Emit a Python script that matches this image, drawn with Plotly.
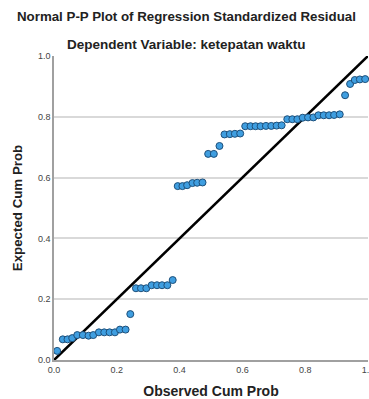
import plotly.graph_objects as go

observed = [0.010, 0.028, 0.043, 0.058, 0.074, 0.092, 0.110, 0.125, 0.143, 0.160,
            0.177, 0.194, 0.210, 0.228, 0.243, 0.261, 0.277, 0.294, 0.311, 0.328,
            0.344, 0.361, 0.378, 0.394, 0.409, 0.424, 0.441, 0.456, 0.473, 0.491,
            0.509, 0.527, 0.543, 0.560, 0.576, 0.593, 0.609, 0.626, 0.642, 0.658,
            0.675, 0.692, 0.709, 0.725, 0.743, 0.759, 0.775, 0.792, 0.809, 0.826,
            0.842, 0.859, 0.876, 0.892, 0.910, 0.927, 0.943, 0.958, 0.974, 0.991]
expected = [0.030, 0.068, 0.068, 0.072, 0.082, 0.082, 0.080, 0.082, 0.091, 0.091,
            0.091, 0.091, 0.100, 0.100, 0.151, 0.236, 0.236, 0.236, 0.246, 0.246,
            0.246, 0.246, 0.263, 0.572, 0.572, 0.575, 0.582, 0.583, 0.584, 0.678,
            0.678, 0.704, 0.742, 0.743, 0.744, 0.745, 0.769, 0.769, 0.769, 0.769,
            0.770, 0.770, 0.771, 0.772, 0.792, 0.792, 0.792, 0.797, 0.798, 0.798,
            0.805, 0.805, 0.805, 0.806, 0.808, 0.871, 0.908, 0.921, 0.923, 0.924]
diag = [0.0, 1.0]
tick_vals = [0.0, 0.2, 0.4, 0.6, 0.8, 1.0]
tick_text = ["0.0", "0.2", "0.4", "0.6", "0.8", "1.0"]

FONT = "Liberation Sans, Arial, sans-serif"

fig = go.Figure()
fig.add_trace(go.Scatter(x=diag, y=diag, mode="lines",
                         line=dict(color="black", width=2.6),
                         hoverinfo="skip", showlegend=False))
fig.add_trace(go.Scatter(x=observed, y=expected, mode="markers",
                         marker=dict(size=7, color="#3f9ee0",
                                     line=dict(color="#1d4f7a", width=1)),
                         showlegend=False, cliponaxis=False))

fig.update_layout(
    width=369, height=399,
    margin=dict(l=54, r=1, t=56, b=39, autoexpand=False),
    paper_bgcolor="white", plot_bgcolor="white",
    font=dict(family=FONT, color="#222"),
    xaxis=dict(range=[0, 1], tickvals=tick_vals, ticktext=tick_text,
               automargin=False, ticklabeloverflow="allow",
               showgrid=False, zeroline=False, showline=True,
               linecolor="#a0a0a0", linewidth=2, ticks="",
               tickfont=dict(size=9, color="#444"),
               title=dict(text="<b>Observed Cum Prob</b>", font=dict(size=14, color="#222"),
                          standoff=13)),
    yaxis=dict(range=[0, 1], tickvals=tick_vals, ticktext=tick_text,
               automargin=False,
               showgrid=True, gridcolor="#d9d9d9", gridwidth=1.5,
               zeroline=False, showline=True, linecolor="#a0a0a0", linewidth=1.5,
               ticks="", tickfont=dict(size=9, color="#444"),
               title=dict(text="<b>Expected Cum Prob</b>", font=dict(size=13.3, color="#222"),
                          standoff=12)),
    annotations=[
        dict(text="<b>Normal P-P Plot of Regression Standardized Residual</b>",
             xref="paper", yref="paper", x=(186 - 54) / 314, y=(360 - 17) / 304,
             showarrow=False, xanchor="center", yanchor="middle",
             font=dict(size=13.3, color="#222", family=FONT)),
        dict(text="<b>Dependent Variable: ketepatan waktu</b>",
             xref="paper", yref="paper", x=(186 - 54) / 314, y=(360 - 44) / 304,
             showarrow=False, xanchor="center", yanchor="middle",
             font=dict(size=13.5, color="#222", family=FONT)),
    ],
)

fig.write_html("out.html", config={"displayModeBar": False},
               post_script="document.body.style.margin='0';document.body.style.overflow='hidden';")
